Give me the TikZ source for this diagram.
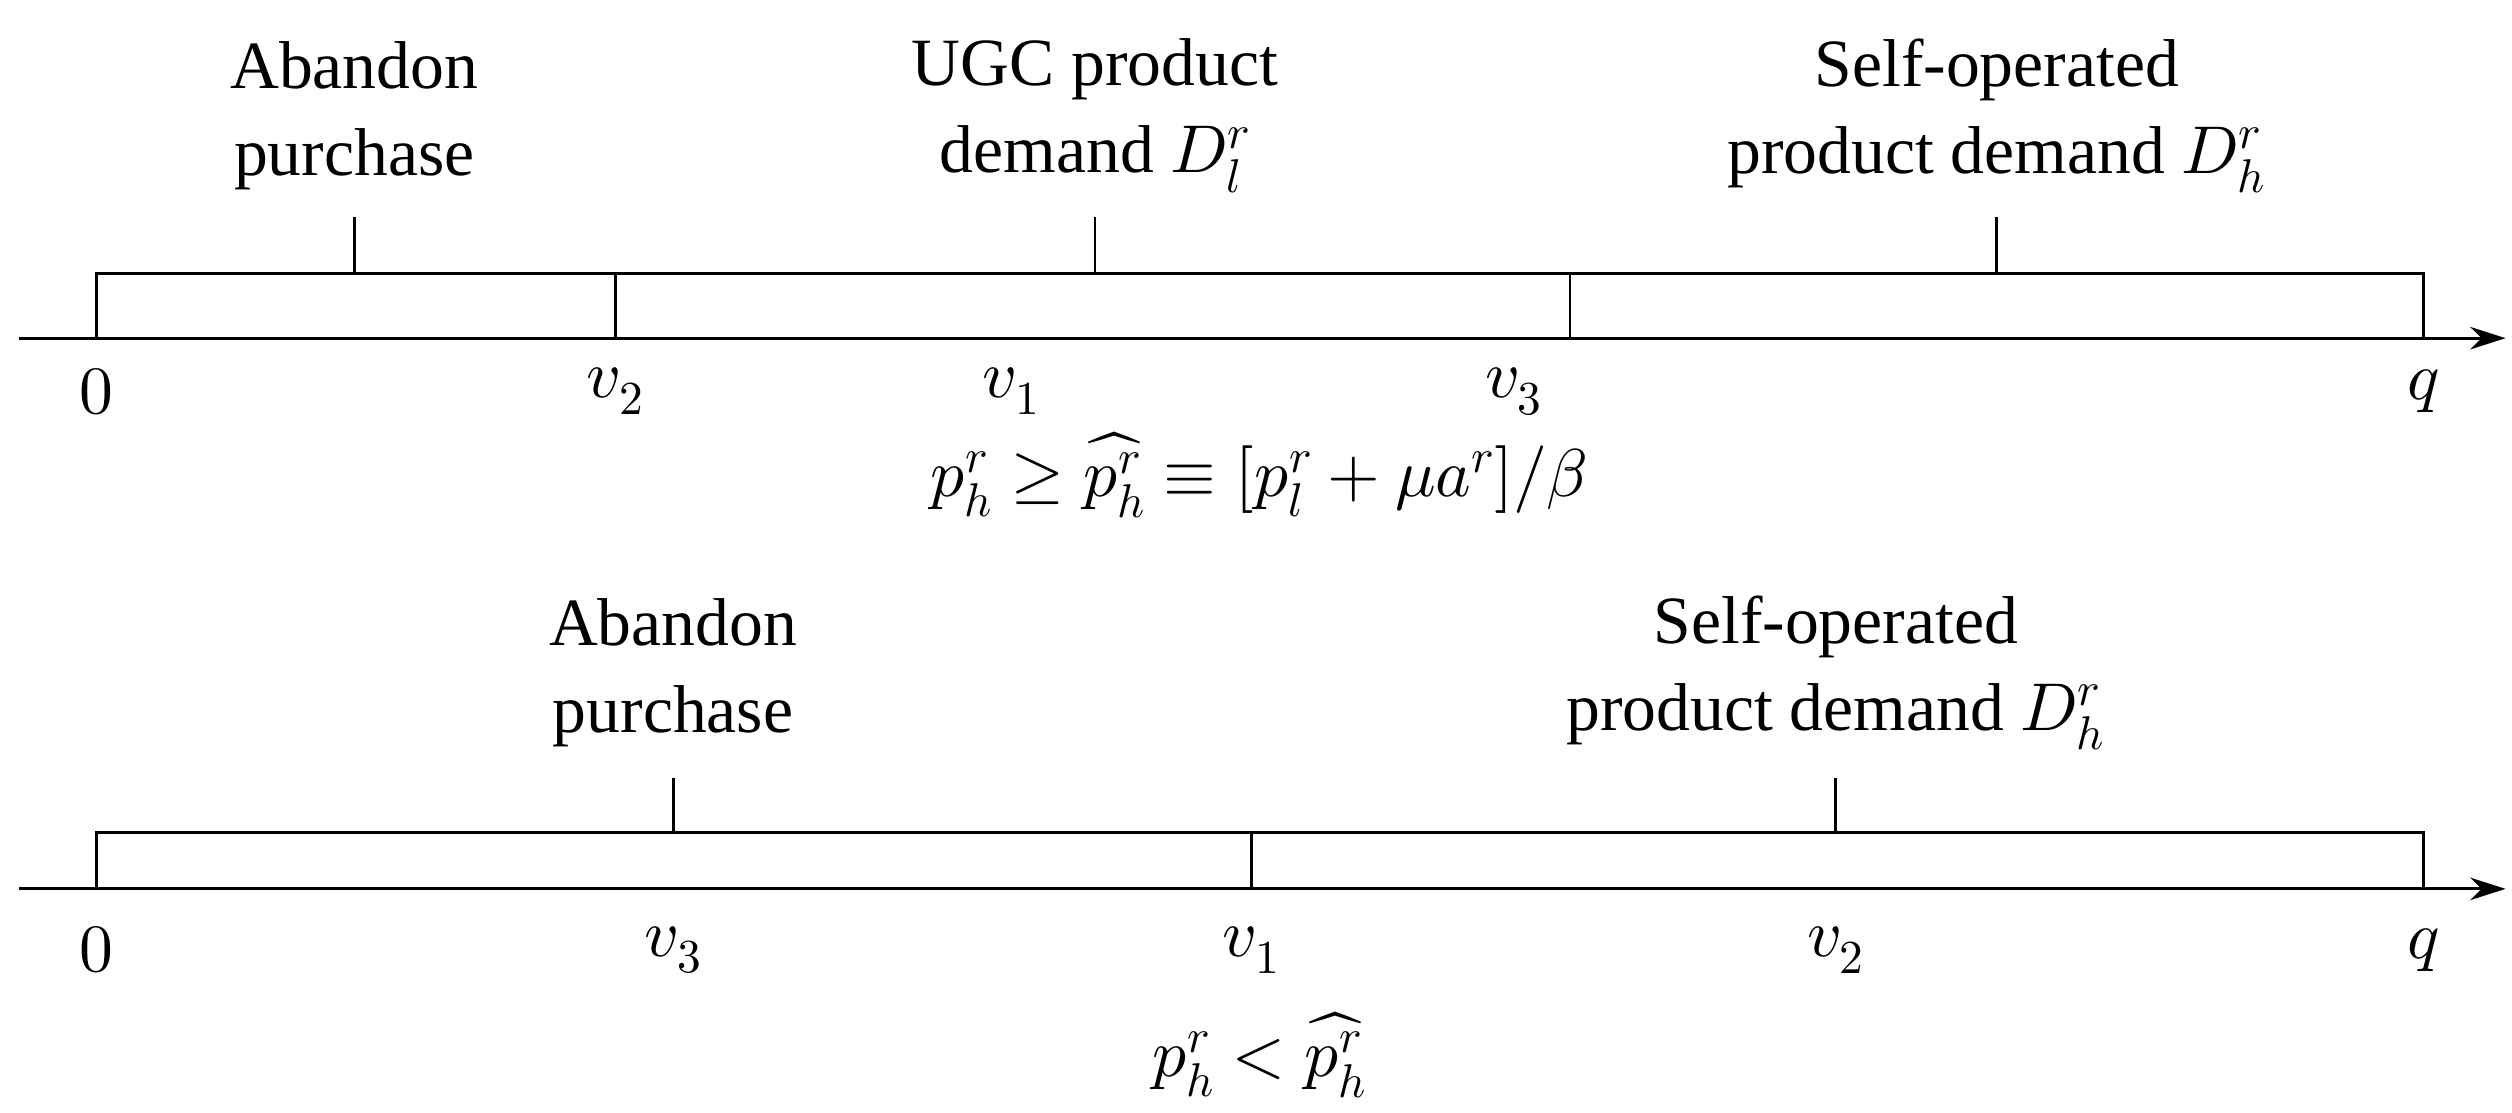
\documentclass[tikz,border=0pt]{standalone}
\usepackage{unicode-math}
\setmainfont{Liberation Serif}
\setmathfont{Latin Modern Math}
\usetikzlibrary{arrows.meta}
\begin{document}
\begin{tikzpicture}[x=1pt,y=-1pt,
  every node/.style={font=\fontsize{42}{54}\selectfont, inner sep=0pt},
  lbl/.style={align=center},
  ln/.style={line width=1.8pt},
  ax/.style={line width=1.8pt,-{Stealth[length=22pt,width=14pt]}}]
\useasboundingbox (0,0) rectangle (1560,691);
% top
\coordinate (a0) at (12,210); \coordinate (a1) at (1556,210);
\draw[ax] (a0) -- (a1);
\draw[ln] (60,210) -- (60,170) -- (1505,170) -- (1505,210);
\draw[ln] (382,170) -- (382,210);
\draw[ln] (975,170) -- (975,210);
\draw[ln] (220,170) -- (220,135);
\draw[ln] (680,170) -- (680,135);
\draw[ln] (1240,170) -- (1240,135);
\node[lbl] (t1) at (220,72) {Abandon\\purchase};
\node[lbl] (t2) at (680,72) {UGC product\\demand $D_l^r$};
\node[lbl] (t3) at (1240,72) {Self-operated\\product demand $D_h^r$};
\node (x0) at (60,243) {$0$};
\node (x1) at (382,243) {$v_2$};
\node (x2) at (628,243) {$v_1$};
\node (x3) at (940,243) {$v_3$};
\node (x4) at (1505,243) {$q$};
\node (f1) at (782,295) {$p_h^r \geq \widehat{p_h^r} \equiv [p_l^r+\mu a^r]/\beta$};
% bottom
\coordinate (b0) at (12,552); \coordinate (b1) at (1556,552);
\draw[ax] (b0) -- (b1);
\draw[ln] (60,552) -- (60,517) -- (1505,517) -- (1505,552);
\draw[ln] (777,517) -- (777,552);
\draw[ln] (418,517) -- (418,483);
\draw[ln] (1140,517) -- (1140,483);
\node[lbl] (s1) at (418,418) {Abandon\\purchase};
\node[lbl] (s2) at (1140,418) {Self-operated\\product demand $D_h^r$};
\node (y0) at (60,590) {$0$};
\node (y1) at (418,590) {$v_3$};
\node (y2) at (777,590) {$v_1$};
\node (y3) at (1140,590) {$v_2$};
\node (y4) at (1505,590) {$q$};
\node (f2) at (782,655) {$p_h^r < \widehat{p_h^r}$};
\end{tikzpicture}
\end{document}
